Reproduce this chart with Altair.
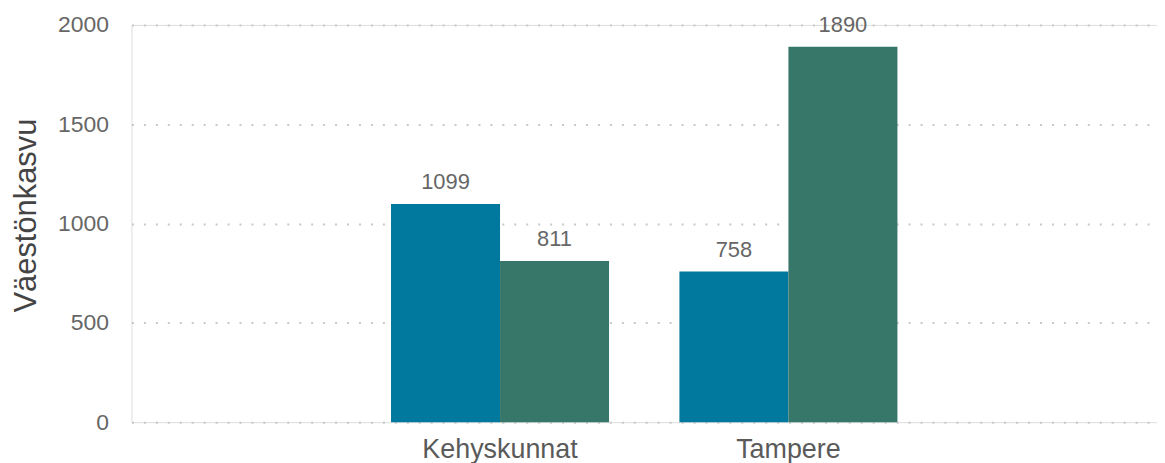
import altair as alt
import pandas as pd

categories = ["Kehyskunnat", "Kehyskunnat", "Tampere", "Tampere"]
series = ["Sarja 1", "Sarja 2", "Sarja 1", "Sarja 2"]
values = [1099, 811, 758, 1890]
series_order = ["Sarja 1", "Sarja 2"]
series_colors = ["#01789D", "#37776A"]
y_ticks = [0, 500, 1000, 1500, 2000]

df = pd.DataFrame({"alue": categories, "sarja": series, "arvo": values})

FONT = "Liberation Sans"

x = alt.X(
    "alue:N",
    title=None,
    sort=["Kehyskunnat", "Tampere"],
    scale=alt.Scale(paddingInner=0.244, paddingOuter=0.9, align=0.5),
    axis=alt.Axis(
        labelAngle=0, labelFontSize=27, labelColor="#5a5a5a", labelFont=FONT,
        domain=False, ticks=False, tickSize=0, labelPadding=14, grid=False,
    ),
)
xo = alt.XOffset("sarja:N", sort=series_order, scale=alt.Scale(paddingInner=0, paddingOuter=0))
y = alt.Y(
    "arvo:Q",
    title="Väestönkasvu",
    scale=alt.Scale(domain=[0, 2000], nice=False),
    axis=alt.Axis(
        values=y_ticks, format="d", labelFontSize=23, labelColor="#666666", labelFont=FONT,
        domain=False, ticks=False, tickSize=0, labelPadding=23,
        grid=True, gridColor="#c8c8c8", gridDash=[2, 10], gridWidth=2,
        titleFontSize=31, titleFont=FONT, titleColor="#444444", titleFontWeight="normal",
        titleAngle=-90, titleAlign="center", titleBaseline="alphabetic",
        titleX=-96, titleY=191,
    ),
)

bars = alt.Chart(df).mark_bar().encode(
    x=x, xOffset=xo, y=y,
    color=alt.Color("sarja:N", scale=alt.Scale(domain=series_order, range=series_colors), legend=None),
)
labels = alt.Chart(df).mark_text(
    baseline="alphabetic", dy=-15, fontSize=22, font=FONT, color="#666666"
).encode(x=x, xOffset=xo, y=y, text=alt.Text("arvo:Q", format="d"))

chart = (bars + labels).properties(
    width=1030, height=399,
    autosize=alt.AutoSizeParams(type="none"),
    padding={"left": 124, "top": 16, "right": 0, "bottom": 40},
).configure_view(stroke=None).configure(background="white")

chart.save("out.html", embed_options={"renderer": "svg", "actions": False})
